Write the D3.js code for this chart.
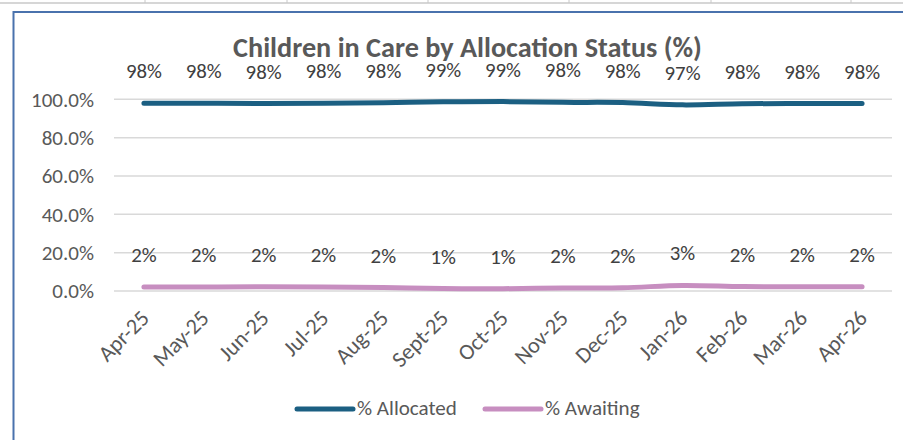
<!DOCTYPE html>
<html>
<head>
<meta charset="utf-8">
<script src="https://cdn.jsdelivr.net/npm/d3@7"></script>
<style>
  body { margin: 0; background: #fff; }
  svg text { font-family: Carlito, Calibri, "Open Sans", sans-serif; }
</style>
</head>
<body>
<div id="chart"></div>
<script>
// data
const months = ["Apr-25", "May-25", "Jun-25", "Jul-25", "Aug-25", "Sept-25", "Oct-25",
                "Nov-25", "Dec-25", "Jan-26", "Feb-26", "Mar-26", "Apr-26"];
const allocated = [97.9, 97.9, 97.8, 97.9, 98.2, 98.7, 98.8, 98.4, 98.3, 97.1, 97.7, 97.8, 97.8];
const awaiting  = [2.1, 2.1, 2.2, 2.1, 1.8, 1.3, 1.2, 1.6, 1.7, 2.9, 2.3, 2.2, 2.2];
const yTicks = [0, 20, 40, 60, 80, 100];
const seriesNames = ["% Allocated", "% Awaiting"];
const title = "Children in Care by Allocation Status (%)";

const W = 903, H = 440;
const plot = { left: 114, right: 892, top: 99.3, bottom: 291 };
const colors = ["#1b5f82", "#c78ec0"];
const textCol = "#595959";

const svg = d3.select("#chart").append("svg")
  .attr("width", W).attr("height", H);

// pick a font size so a sample string comes out at the width seen in the reference
function fitSize(sample, width, weight) {
  const t = svg.append("text")
    .style("font-size", "20px")
    .style("font-weight", weight || "normal")
    .text(sample);
  const w = t.node().getComputedTextLength();
  t.remove();
  return 20 * width / w;
}
const titleSize = fitSize(title, 469, "bold");
const tickSize = fitSize("100.0%", 63);
const labelSize = fitSize("98%", 36);
const legendSize = fitSize("% Allocated", 100);

// spreadsheet cell borders peeking above the chart
svg.append("line")
  .attr("x1", 0).attr("x2", W).attr("y1", 3).attr("y2", 3)
  .attr("stroke", "#c8c8c8").attr("stroke-width", 1.5);
[145, 287, 428, 569, 711, 851].forEach(x => {
  svg.append("line")
    .attr("x1", x).attr("x2", x).attr("y1", 0).attr("y2", 3)
    .attr("stroke", "#c8c8c8").attr("stroke-width", 1);
});

// chart frame (runs past the right and bottom edges)
svg.append("rect")
  .attr("x", 13.5).attr("y", 12).attr("width", W + 20).attr("height", H + 20)
  .attr("fill", "#fff").attr("stroke", "#4a72ad").attr("stroke-width", 2);

// scales
const x = d3.scaleBand().domain(months).range([plot.left, plot.right]);
const y = d3.scaleLinear().domain([0, 100]).range([plot.bottom, plot.top]);
const cx = d => x(d) + x.bandwidth() / 2;

// gridlines
svg.append("g").selectAll("line")
  .data(yTicks).enter().append("line")
    .attr("x1", plot.left).attr("x2", plot.right)
    .attr("y1", d => y(d)).attr("y2", d => y(d))
    .attr("stroke", "#d9d9d9").attr("stroke-width", 1.5);

// y axis labels
svg.append("g").selectAll("text")
  .data(yTicks).enter().append("text")
    .attr("x", 94).attr("y", d => y(d))
    .attr("dy", "0.35em")
    .attr("text-anchor", "end")
    .attr("fill", textCol)
    .style("font-size", tickSize + "px")
    .text(d => d.toFixed(1) + "%");

// x axis labels, rotated
svg.append("g").selectAll("text")
  .data(months).enter().append("text")
    .attr("transform", d => "translate(" + (cx(d) + 1) + ",314) rotate(-45)")
    .attr("dy", "0.35em")
    .attr("text-anchor", "end")
    .attr("fill", textCol)
    .style("font-size", (tickSize * 1.06) + "px")
    .text(d => d);

// lines
const line = d3.line()
  .x((d, i) => cx(months[i]))
  .y(d => y(d))
  .curve(d3.curveCatmullRom.alpha(0.5));

[allocated, awaiting].forEach((vals, k) => {
  svg.append("path")
    .datum(vals)
    .attr("d", line)
    .attr("fill", "none")
    .attr("stroke", colors[k])
    .attr("stroke-width", 5)
    .attr("stroke-linecap", "round")
    .attr("stroke-linejoin", "round");

  // data labels above each point
  svg.append("g").selectAll("text")
    .data(vals).enter().append("text")
      .attr("x", (d, i) => cx(months[i]))
      .attr("y", d => y(d) - 25)
      .attr("text-anchor", "middle")
      .attr("fill", "#404040")
      .style("font-size", labelSize + "px")
      .text(d => Math.round(d) + "%");
});

// title
svg.append("text")
  .attr("x", 467.5).attr("y", 57.3)
  .attr("text-anchor", "middle")
  .attr("fill", textCol)
  .style("font-size", titleSize + "px")
  .style("font-weight", "bold")
  .text(title);

// legend
const legend = svg.append("g");
const legendX = [297, 485];
seriesNames.forEach((name, k) => {
  legend.append("line")
    .attr("x1", legendX[k]).attr("x2", legendX[k] + 56)
    .attr("y1", 409).attr("y2", 409)
    .attr("stroke", colors[k])
    .attr("stroke-width", 5)
    .attr("stroke-linecap", "round");
  legend.append("text")
    .attr("x", legendX[k] + 60).attr("y", 415)
    .attr("fill", textCol)
    .style("font-size", legendSize + "px")
    .text(name);
});
</script>
</body>
</html>
